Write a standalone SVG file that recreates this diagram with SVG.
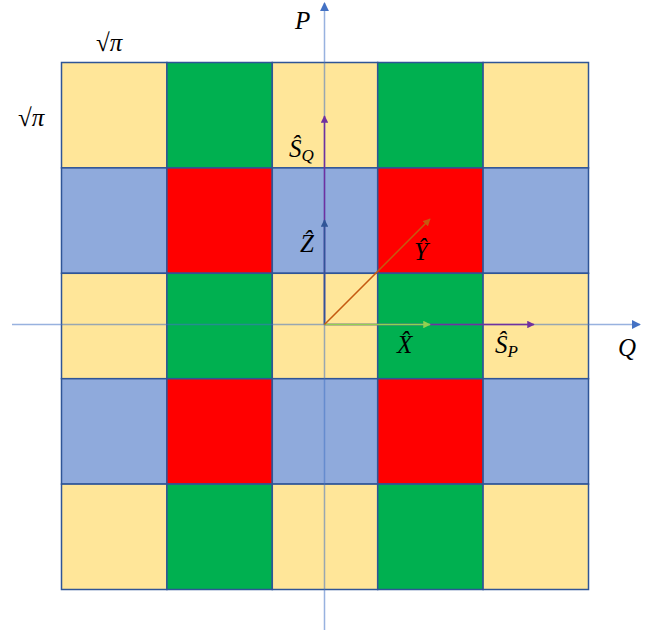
<svg xmlns="http://www.w3.org/2000/svg" width="659" height="635" viewBox="0 0 659 635">
<style>
.y{fill:#FFE699}.g{fill:#00B050}.b{fill:#8FAADC}.r{fill:#FF0000}
.cells rect{stroke:#2F5597;stroke-width:1.5}
.m{font-family:"Liberation Serif",serif;font-style:italic;font-size:25px;fill:#000}
.s{font-family:"Liberation Serif",serif;font-size:25px;fill:#000}
</style>
<defs>
<marker id="ab" viewBox="0 0 10 10" refX="9" refY="5" markerWidth="6" markerHeight="6" orient="auto" markerUnits="strokeWidth"><path d="M0,0L10,5L0,10z" fill="#4472C4"/></marker>
<marker id="ap" viewBox="0 0 10 10" refX="9" refY="5" markerWidth="5" markerHeight="5" orient="auto" markerUnits="strokeWidth"><path d="M0,0L10,5L0,10z" fill="#7030A0"/></marker>
<marker id="ad" viewBox="0 0 10 10" refX="9" refY="5" markerWidth="5" markerHeight="5" orient="auto" markerUnits="strokeWidth"><path d="M0,0L10,5L0,10z" fill="#2F5597"/></marker>
<marker id="ag" viewBox="0 0 10 10" refX="9" refY="5" markerWidth="5" markerHeight="5" orient="auto" markerUnits="strokeWidth"><path d="M0,0L10,5L0,10z" fill="#92D050"/></marker>
<marker id="ao" viewBox="0 0 10 10" refX="9" refY="5" markerWidth="5" markerHeight="5" orient="auto" markerUnits="strokeWidth"><path d="M0,0L10,5L0,10z" fill="#C55A11"/></marker>
</defs>
<g id="grid" class="cells">
<rect class="y" x="61.5" y="62.5" width="105.4" height="105.4"/>
<rect class="g" x="166.9" y="62.5" width="105.4" height="105.4"/>
<rect class="y" x="272.3" y="62.5" width="105.4" height="105.4"/>
<rect class="g" x="377.7" y="62.5" width="105.4" height="105.4"/>
<rect class="y" x="483.1" y="62.5" width="105.4" height="105.4"/>
<rect class="b" x="61.5" y="167.9" width="105.4" height="105.4"/>
<rect class="r" x="166.9" y="167.9" width="105.4" height="105.4"/>
<rect class="b" x="272.3" y="167.9" width="105.4" height="105.4"/>
<rect class="r" x="377.7" y="167.9" width="105.4" height="105.4"/>
<rect class="b" x="483.1" y="167.9" width="105.4" height="105.4"/>
<rect class="y" x="61.5" y="273.3" width="105.4" height="105.4"/>
<rect class="g" x="166.9" y="273.3" width="105.4" height="105.4"/>
<rect class="y" x="272.3" y="273.3" width="105.4" height="105.4"/>
<rect class="g" x="377.7" y="273.3" width="105.4" height="105.4"/>
<rect class="y" x="483.1" y="273.3" width="105.4" height="105.4"/>
<rect class="b" x="61.5" y="378.7" width="105.4" height="105.4"/>
<rect class="r" x="166.9" y="378.7" width="105.4" height="105.4"/>
<rect class="b" x="272.3" y="378.7" width="105.4" height="105.4"/>
<rect class="r" x="377.7" y="378.7" width="105.4" height="105.4"/>
<rect class="b" x="483.1" y="378.7" width="105.4" height="105.4"/>
<rect class="y" x="61.5" y="484.1" width="105.4" height="105.4"/>
<rect class="g" x="166.9" y="484.1" width="105.4" height="105.4"/>
<rect class="y" x="272.3" y="484.1" width="105.4" height="105.4"/>
<rect class="g" x="377.7" y="484.1" width="105.4" height="105.4"/>
<rect class="y" x="483.1" y="484.1" width="105.4" height="105.4"/>
</g>
<g id="connectors" fill="none">
<line x1="12" y1="324.5" x2="640" y2="324.5" stroke="#4472C4" stroke-opacity="0.55" stroke-width="1.5" marker-end="url(#ab)"/>
<line x1="324.5" y1="630" x2="324.5" y2="3" stroke="#4472C4" stroke-opacity="0.55" stroke-width="1.5" marker-end="url(#ab)"/>
<line x1="324.5" y1="324.5" x2="324.5" y2="116" stroke="#7030A0" stroke-width="1.5" marker-end="url(#ap)"/>
<line x1="324.5" y1="324.5" x2="534" y2="324.5" stroke="#7030A0" stroke-width="1.5" marker-end="url(#ap)"/>
<line x1="324.5" y1="324.5" x2="324.5" y2="220" stroke="#2F5597" stroke-width="1.5" marker-end="url(#ad)"/>
<line x1="324.5" y1="324.5" x2="430" y2="324.5" stroke="#92D050" stroke-width="1.5" marker-end="url(#ag)"/>
<line x1="324.5" y1="324.5" x2="430" y2="219" stroke="#C55A11" stroke-width="1.5" marker-end="url(#ao)"/>
</g>
<g id="labels">
<text class="m" x="295" y="29">P</text>
<text class="m" x="618" y="356">Q</text>
<text class="s" x="96" y="51">√<tspan font-style="italic">π</tspan></text>
<text class="s" x="18" y="126">√<tspan font-style="italic">π</tspan></text>
<text class="m" x="289" y="157">Ŝ<tspan font-size="17" dy="4">Q</tspan></text>
<text class="m" x="300" y="252">Ẑ</text>
<text class="m" x="414" y="260">Ŷ</text>
<text class="m" x="397" y="353">X̂</text>
<text class="m" x="495" y="353">Ŝ<tspan font-size="17" dy="4">P</tspan></text>
</g>
</svg>
